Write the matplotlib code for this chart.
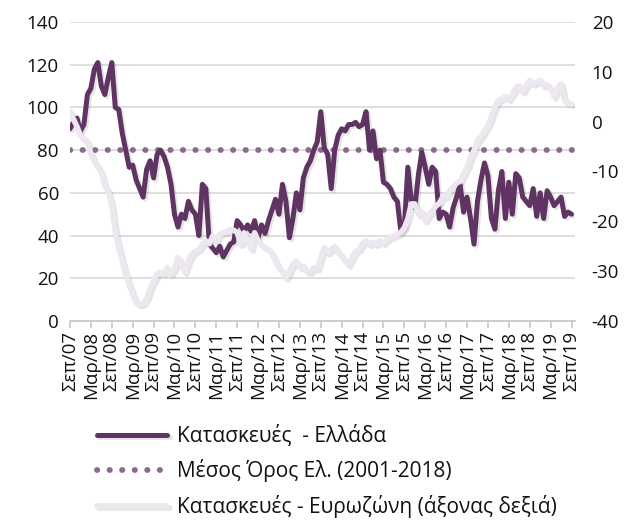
import matplotlib
matplotlib.use("Agg")
import matplotlib.pyplot as plt
import matplotlib.patheffects as pe
import numpy as np

plt.rcParams["font.family"] = ["Open Sans", "DejaVu Sans"]
plt.rcParams["axes.unicode_minus"] = False

# μηνιαία στοιχεία, Σεπ/07 - Σεπ/19
greece = [90, 93, 95, 89, 92, 106, 109, 118, 121, 110, 106, 114, 121, 100, 99, 88, 80, 72, 73, 66,
          62, 58, 71, 75, 67, 78, 80, 77, 72, 64, 50, 44, 50, 48, 56, 52, 50, 40, 64, 62,
          36, 34, 32, 35, 30, 33, 36, 37, 47, 45, 42, 45, 42, 47, 39, 45, 41, 47, 52, 57,
          50, 64, 56, 39, 48, 60, 52, 67, 72, 75, 80, 84, 98, 81, 78, 62, 80, 87, 90, 89,
          92, 92, 93, 91, 92, 98, 80, 89, 76, 80, 65, 64, 62, 58, 56, 42, 44, 72, 56, 53,
          68, 79, 72, 64, 72, 70, 48, 51, 50, 44, 53, 58, 64, 51, 58, 48, 36, 56, 66, 74,
          68, 48, 43, 61, 70, 48, 65, 50, 69, 67, 58, 56, 54, 62, 49, 60, 48, 61, 58, 54,
          56, 58, 49, 51, 50]

eurozone = [2.0, 0.5, -1.0, -2.8, -3.5, -4.0, -6.5, -8.0, -9.0, -10.3, -13.0, -14.0, -17.0, -22.0,
            -25.3, -28.0, -30.6, -32.7, -34.6, -36.3, -36.7, -36.5, -35.5, -33.5, -32.0, -30.6,
            -30.2, -30.5, -29.3, -30.6, -29.5, -27.3, -28.5, -30.2, -28.0, -26.6, -26.0, -25.6,
            -24.6, -23.9, -24.5, -22.9, -23.9, -22.6, -22.3, -22.0, -21.6, -21.8, -22.2, -24.6,
            -22.3, -24.0, -25.6, -22.3, -23.9, -24.8, -25.3, -25.6, -26.6, -28.0, -29.3, -30.1,
            -31.3, -30.1, -28.7, -28.0, -29.3, -29.0, -30.1, -30.1, -29.3, -29.5, -27.3, -25.3,
            -26.3, -25.6, -25.0, -26.3, -26.9, -28.0, -28.7, -27.3, -26.0, -25.6, -24.5, -23.9,
            -24.6, -24.2, -24.6, -23.9, -24.4, -23.6, -23.2, -22.9, -22.6, -22.2, -21.3, -19.5,
            -16.5, -16.5, -18.6, -18.0, -19.9, -18.6, -18.0, -17.0, -16.4, -15.2, -15.0, -13.9,
            -13.2, -12.3, -12.0, -10.5, -9.2, -7.2, -5.8, -3.8, -3.0, -1.8, -0.8, 1.0, 3.0, 4.2,
            4.6, 5.0, 4.5, 5.5, 6.8, 7.2, 6.0, 7.2, 8.3, 7.6, 7.9, 8.3, 7.2, 7.4, 6.6, 5.0, 6.8,
            7.6, 4.2, 3.8, 3.5]

mean_gr = 80.2

tick_labels = []
for yr in range(7, 20):
    if yr > 7:
        tick_labels.append(f"Μαρ/{yr:02d}")
    tick_labels.append(f"Σεπ/{yr:02d}")

months = np.arange(len(greece))

c_gr = "#5f3462"
c_mean = "#8c6a8f"
c_ez = "#ede7ef"
shadow = [pe.SimpleLineShadow(offset=(1.5, -1.5), alpha=0.15, shadow_color="#555555"), pe.Normal()]

fig = plt.figure(figsize=(6.38, 5.22), dpi=100)
ax = fig.add_axes([70 / 638, 1 - 321 / 522, 505 / 638, 299 / 522])
ax2 = ax.twinx()

ax.plot(months, greece, color=c_gr, lw=3.6, solid_joinstyle="round", solid_capstyle="round",
        path_effects=shadow, zorder=3, label="Κατασκευές  - Ελλάδα")
ax.plot(months, [mean_gr] * len(months), color=c_mean, lw=4.2, linestyle=(0, (0.05, 2.1)),
        dash_capstyle="round", zorder=2, label="Μέσος Όρος Ελ. (2001-2018)")
ax2.plot(months, eurozone, color=c_ez, lw=4.0, solid_joinstyle="round", solid_capstyle="round",
         path_effects=shadow, zorder=3, label="Κατασκευές - Ευρωζώνη (άξονας δεξιά)")

ax.set_xlim(0, 145)
ax.set_ylim(0, 140)
ax2.set_ylim(-40, 20)
ax.set_yticks(range(0, 141, 20))
ax2.set_yticks(range(-40, 21, 10))
ax.set_xticks(range(0, 145, 6))
ax.set_xticklabels(tick_labels, rotation=90, fontsize=13.5, color="#111111")
ax.tick_params(axis="y", length=0, labelsize=13.5, labelcolor="#111111", pad=8)
ax2.tick_params(axis="y", length=0, labelsize=13.5, labelcolor="#111111", pad=12)
ax.tick_params(axis="x", length=5, color="#c8c8c8", width=1.2, pad=2)

ax.grid(axis="y", color="#d9d9d9", lw=1.2, zorder=0)
ax.set_axisbelow(True)
for a in (ax, ax2):
    for s in ("top", "left", "right"):
        a.spines[s].set_visible(False)
    a.spines["bottom"].set_color("#c8c8c8")
    a.spines["bottom"].set_linewidth(1.2)
ax2.spines["bottom"].set_visible(False)

h1, l1 = ax.get_legend_handles_labels()
h2, l2 = ax2.get_legend_handles_labels()
leg = fig.legend(h1 + h2, l1 + l2, loc="upper left", bbox_to_anchor=(0.122, 0.222), frameon=False,
                 fontsize=15, handlelength=3.4, labelspacing=0.6, handletextpad=0.45)
for t in leg.get_texts():
    t.set_color("#111111")

fig.savefig("out.png", dpi=100)
